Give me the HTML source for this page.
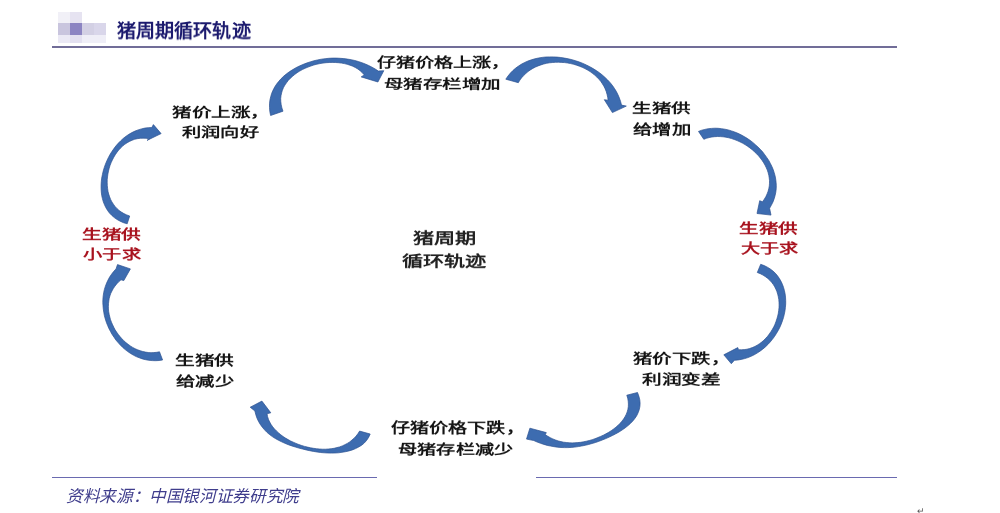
<!DOCTYPE html>
<html lang="zh-CN"><head><meta charset="utf-8">
<style>
html,body{margin:0;padding:0;background:#fff;}
body{width:1000px;height:513px;position:relative;overflow:hidden;font-family:"Liberation Serif",serif;}
.t{position:absolute;white-space:nowrap;line-height:1;transform-origin:0 0;will-change:transform;}
.red{color:#b8141e;}
.line{position:absolute;height:0;}
svg{position:absolute;left:0;top:0;}
</style></head><body>
<!-- header icon -->
<div style="position:absolute;left:58px;top:12px;width:12px;height:11px;background:#f1f0f7"></div>
<div style="position:absolute;left:70px;top:12px;width:12px;height:11px;background:#e6e3f1"></div>
<div style="position:absolute;left:58px;top:23px;width:12px;height:12px;background:#c9c5de"></div>
<div style="position:absolute;left:70px;top:23px;width:12px;height:12px;background:#8c84c2"></div>
<div style="position:absolute;left:82px;top:23px;width:12px;height:12px;background:#d3d0e4"></div>
<div style="position:absolute;left:94px;top:23px;width:12px;height:12px;background:#d9d6ea"></div>
<div style="position:absolute;left:58px;top:35px;width:12px;height:8px;background:#ebe9f5"></div>
<div style="position:absolute;left:70px;top:35px;width:12px;height:8px;background:#e3e0f0"></div>
<div style="position:absolute;left:82px;top:35px;width:24px;height:8px;background:#efeef7"></div>
<div style="position:absolute;left:52px;top:46px;width:845px;height:2px;background:#716d98"></div>
<div style="position:absolute;left:52px;top:477px;width:325px;height:1px;background:#6a6ab0"></div>
<div style="position:absolute;left:536px;top:477px;width:361px;height:1px;background:#6a6ab0"></div>
<div class="t" style="left:917px;top:507px;font-size:9px;color:#555;font-weight:normal">↵</div>

<div class="t" style="left:172.00px;top:105.89px;font-size:19px;font-weight:bold;font-style:normal;font-family:'Liberation Serif',serif;color:#141414;transform:scale(1.0265,0.6947)">猪价上涨，</div>
<div class="t" style="left:181.60px;top:126.29px;font-size:19px;font-weight:bold;font-style:normal;font-family:'Liberation Serif',serif;color:#141414;transform:scale(1.0105,0.6947)">利润向好</div>
<div class="t" style="left:377.00px;top:56.21px;font-size:19px;font-weight:bold;font-style:normal;font-family:'Liberation Serif',serif;color:#141414;transform:scale(1.0041,0.7105)">仔猪价格上涨，</div>
<div class="t" style="left:384.18px;top:77.87px;font-size:19px;font-weight:bold;font-style:normal;font-family:'Liberation Serif',serif;color:#141414;transform:scale(1.0250,0.6737)">母猪存栏增加</div>
<div class="t" style="left:631.97px;top:102.18px;font-size:19px;font-weight:bold;font-style:normal;font-family:'Liberation Serif',serif;color:#141414;transform:scale(1.0268,0.6842)">生猪供</div>
<div class="t" style="left:633.00px;top:122.71px;font-size:19px;font-weight:bold;font-style:normal;font-family:'Liberation Serif',serif;color:#141414;transform:scale(1.0179,0.7105)">给增加</div>
<div class="t" style="left:739.47px;top:221.71px;font-size:19px;font-weight:bold;font-style:normal;font-family:'Liberation Serif',serif;color:#a8121e;transform:scale(1.0268,0.7105)">生猪供</div>
<div class="t" style="left:740.50px;top:241.71px;font-size:19px;font-weight:bold;font-style:normal;font-family:'Liberation Serif',serif;color:#a8121e;transform:scale(1.0088,0.7105)">大于求</div>
<div class="t" style="left:633.20px;top:351.73px;font-size:19px;font-weight:bold;font-style:normal;font-family:'Liberation Serif',serif;color:#141414;transform:scale(1.0205,0.7263)">猪价下跌，</div>
<div class="t" style="left:642.00px;top:372.63px;font-size:19px;font-weight:bold;font-style:normal;font-family:'Liberation Serif',serif;color:#141414;transform:scale(1.0347,0.7263)">利润变差</div>
<div class="t" style="left:391.20px;top:421.25px;font-size:19px;font-weight:bold;font-style:normal;font-family:'Liberation Serif',serif;color:#141414;transform:scale(1.0050,0.7526)">仔猪价格下跌，</div>
<div class="t" style="left:398.49px;top:442.91px;font-size:19px;font-weight:bold;font-style:normal;font-family:'Liberation Serif',serif;color:#141414;transform:scale(1.0088,0.7105)">母猪存栏减少</div>
<div class="t" style="left:174.96px;top:354.11px;font-size:19px;font-weight:bold;font-style:normal;font-family:'Liberation Serif',serif;color:#141414;transform:scale(1.0357,0.7053)">生猪供</div>
<div class="t" style="left:176.00px;top:375.01px;font-size:19px;font-weight:bold;font-style:normal;font-family:'Liberation Serif',serif;color:#141414;transform:scale(1.0175,0.7053)">给减少</div>
<div class="t" style="left:81.87px;top:228.01px;font-size:19px;font-weight:bold;font-style:normal;font-family:'Liberation Serif',serif;color:#a8121e;transform:scale(1.0339,0.7053)">生猪供</div>
<div class="t" style="left:82.90px;top:248.41px;font-size:19px;font-weight:bold;font-style:normal;font-family:'Liberation Serif',serif;color:#a8121e;transform:scale(1.0158,0.7053)">小于求</div>
<div class="t" style="left:412.80px;top:230.91px;font-size:21px;font-weight:bold;font-style:normal;font-family:'Liberation Serif',serif;color:#222;transform:scale(1.0065,0.7143)">猪周期</div>
<div class="t" style="left:402.00px;top:254.31px;font-size:21px;font-weight:bold;font-style:normal;font-family:'Liberation Serif',serif;color:#222;transform:scale(1.0071,0.7143)">循环轨迹</div>
<div class="t" style="left:117.00px;top:22.17px;font-size:19px;font-weight:bold;font-style:normal;font-family:'Liberation Sans',sans-serif;color:#1c1a6e;transform:scale(1.0045,0.9684)">猪周期循环轨迹</div>
<div class="t" style="left:65.66px;top:487.94px;font-size:16px;font-weight:normal;font-style:italic;font-family:'Liberation Serif',serif;color:#3f3d8c;transform:scale(1.0400,1.0400)">资料来源：中国银河证券研究院</div>

<svg width="1000" height="513" viewBox="0 0 1000 513">
<g fill="#3d6cb0" stroke="#2c5190" stroke-width="0.7" stroke-linejoin="round">
<path d="M270.6,115.5 L269.8,111.5 L269.5,107.6 L269.5,103.8 L269.9,100.2 L270.7,96.7 L271.7,93.3 L273.1,90.1 L274.7,87.0 L276.6,84.1 L278.8,81.3 L281.2,78.6 L283.8,76.1 L286.6,73.8 L289.6,71.6 L292.8,69.6 L296.0,67.7 L299.4,66.0 L302.9,64.5 L306.5,63.1 L310.1,61.9 L313.8,60.8 L317.6,59.9 L321.3,59.2 L325.1,58.7 L328.8,58.3 L332.6,58.1 L336.3,58.1 L340.1,58.3 L343.8,58.6 L347.5,59.1 L351.2,59.7 L354.8,60.5 L358.3,61.5 L361.9,62.7 L365.3,64.0 L368.7,65.5 L372.0,67.2 L375.2,69.0 L378.3,71.0 L383.8,70.7 L377.9,82.0 L361.2,76.9 L364.3,74.9 L362.3,72.7 L360.1,70.7 L357.8,69.0 L355.3,67.5 L352.7,66.2 L350.0,65.2 L347.2,64.3 L344.3,63.6 L341.4,63.1 L338.3,62.7 L335.3,62.5 L332.2,62.4 L329.2,62.5 L326.1,62.7 L323.0,63.1 L319.9,63.6 L316.9,64.2 L313.8,65.0 L310.9,66.0 L308.0,67.1 L305.1,68.3 L302.4,69.6 L299.7,71.1 L297.1,72.7 L294.7,74.5 L292.4,76.4 L290.2,78.4 L288.2,80.5 L286.5,82.8 L284.9,85.1 L283.5,87.6 L282.4,90.2 L281.6,92.9 L281.0,95.7 L280.7,98.6 L280.8,101.6 L281.2,104.7 L281.9,107.9 L283.0,111.2 Z"/>
<path d="M505.8,79.2 L508.0,76.0 L510.4,73.1 L512.9,70.5 L515.7,68.1 L518.6,66.0 L521.6,64.1 L524.8,62.4 L528.0,61.0 L531.4,59.8 L534.9,58.8 L538.4,58.0 L542.1,57.4 L545.7,57.0 L549.5,56.9 L553.2,56.9 L557.0,57.1 L560.8,57.5 L564.5,58.1 L568.3,58.8 L572.0,59.7 L575.7,60.8 L579.4,62.0 L582.9,63.4 L586.4,65.0 L589.8,66.7 L593.1,68.6 L596.3,70.6 L599.4,72.7 L602.3,75.0 L605.1,77.5 L607.7,80.0 L610.2,82.7 L612.5,85.6 L614.5,88.5 L616.4,91.6 L618.0,94.8 L619.4,98.1 L620.6,101.5 L621.5,105.1 L626.3,106.1 L612.4,112.6 L604.3,99.7 L608.1,100.2 L607.7,97.2 L607.0,94.2 L606.2,91.4 L605.1,88.7 L603.8,86.1 L602.3,83.7 L600.7,81.3 L598.8,79.1 L596.8,77.0 L594.7,75.1 L592.4,73.3 L590.1,71.6 L587.5,70.0 L584.9,68.6 L582.2,67.3 L579.4,66.2 L576.6,65.2 L573.7,64.3 L570.7,63.6 L567.7,63.0 L564.7,62.6 L561.7,62.4 L558.6,62.2 L555.6,62.3 L552.6,62.5 L549.6,62.8 L546.6,63.3 L543.7,64.0 L540.9,64.9 L538.1,65.9 L535.4,67.1 L532.8,68.4 L530.4,69.9 L528.0,71.6 L525.8,73.5 L523.7,75.5 L521.7,77.7 L519.9,80.1 L518.3,82.7 Z"/>
<path d="M698.5,131.4 L701.7,130.2 L704.9,129.4 L708.2,128.7 L711.5,128.4 L714.9,128.2 L718.2,128.3 L721.5,128.7 L724.9,129.2 L728.2,129.9 L731.5,130.9 L734.7,132.0 L737.9,133.3 L741.0,134.8 L744.1,136.5 L747.1,138.3 L750.0,140.3 L752.8,142.4 L755.4,144.7 L758.0,147.1 L760.5,149.5 L762.8,152.1 L764.9,154.9 L766.9,157.7 L768.8,160.5 L770.4,163.5 L771.9,166.5 L773.2,169.6 L774.2,172.7 L775.1,175.9 L775.7,179.1 L776.1,182.4 L776.3,185.6 L776.2,188.9 L775.8,192.2 L775.1,195.5 L774.2,198.7 L773.0,201.9 L771.4,205.1 L769.6,208.3 L771.0,215.1 L757.0,213.5 L759.7,200.7 L762.5,201.8 L764.3,199.2 L765.9,196.6 L767.1,193.9 L768.1,191.3 L768.8,188.6 L769.3,185.9 L769.5,183.2 L769.5,180.5 L769.2,177.9 L768.8,175.3 L768.1,172.6 L767.3,170.1 L766.2,167.6 L765.0,165.1 L763.6,162.7 L762.0,160.3 L760.3,158.0 L758.5,155.8 L756.5,153.7 L754.4,151.7 L752.2,149.7 L749.9,147.9 L747.5,146.2 L745.0,144.6 L742.4,143.1 L739.8,141.8 L737.1,140.6 L734.3,139.5 L731.6,138.6 L728.8,137.8 L725.9,137.2 L723.1,136.8 L720.3,136.6 L717.5,136.5 L714.6,136.7 L711.9,137.0 L709.1,137.6 L706.4,138.3 L703.8,139.3 Z"/>
<path d="M760.7,264.3 L764.2,265.6 L767.4,267.2 L770.3,269.0 L773.0,271.1 L775.4,273.3 L777.5,275.8 L779.4,278.5 L781.0,281.3 L782.4,284.3 L783.5,287.3 L784.4,290.5 L785.1,293.8 L785.5,297.1 L785.7,300.5 L785.7,303.9 L785.4,307.4 L785.0,310.8 L784.3,314.2 L783.5,317.6 L782.4,320.9 L781.2,324.2 L779.8,327.4 L778.2,330.5 L776.4,333.5 L774.5,336.5 L772.4,339.3 L770.2,342.0 L767.9,344.5 L765.4,346.9 L762.7,349.2 L760.0,351.2 L757.1,353.1 L754.2,354.8 L751.1,356.3 L747.9,357.6 L744.7,358.6 L741.3,359.4 L737.9,360.0 L734.4,360.3 L731.3,363.7 L723.8,354.8 L737.8,347.6 L738.5,349.7 L741.4,349.8 L744.3,349.6 L747.0,349.2 L749.7,348.5 L752.3,347.6 L754.8,346.5 L757.2,345.2 L759.5,343.7 L761.7,342.1 L763.8,340.3 L765.7,338.3 L767.6,336.3 L769.3,334.0 L770.9,331.7 L772.4,329.3 L773.8,326.8 L775.0,324.2 L776.0,321.5 L776.9,318.8 L777.7,316.1 L778.3,313.3 L778.7,310.6 L779.0,307.8 L779.1,305.0 L779.0,302.2 L778.8,299.5 L778.3,296.8 L777.7,294.2 L776.9,291.6 L775.9,289.2 L774.7,286.8 L773.3,284.5 L771.6,282.3 L769.8,280.3 L767.8,278.4 L765.5,276.7 L763.0,275.1 L760.3,273.7 L757.3,272.5 Z"/>
<path d="M637.5,392.5 L638.9,396.3 L639.8,399.9 L640.1,403.3 L639.9,406.6 L639.2,409.8 L638.1,412.8 L636.7,415.7 L634.9,418.4 L632.8,421.0 L630.4,423.5 L627.8,425.8 L625.0,428.0 L622.1,430.0 L619.0,432.0 L615.8,433.8 L612.5,435.5 L609.2,437.1 L605.8,438.6 L602.3,440.0 L598.9,441.3 L595.5,442.5 L592.0,443.5 L588.6,444.5 L585.2,445.3 L581.7,446.0 L578.3,446.6 L574.8,447.1 L571.4,447.4 L567.9,447.6 L564.5,447.6 L561.0,447.5 L557.6,447.2 L554.2,446.7 L550.7,446.1 L547.3,445.4 L543.9,444.4 L540.5,443.3 L537.1,442.0 L533.7,440.5 L526.5,439.1 L529.9,428.2 L546.3,432.6 L545.3,434.7 L547.8,436.3 L550.3,437.7 L552.8,438.9 L555.5,440.0 L558.2,440.9 L560.9,441.6 L563.6,442.2 L566.4,442.5 L569.2,442.8 L572.1,442.9 L574.9,442.8 L577.8,442.6 L580.7,442.3 L583.6,441.8 L586.4,441.2 L589.3,440.5 L592.2,439.7 L595.0,438.7 L597.8,437.6 L600.6,436.4 L603.3,435.2 L606.0,433.8 L608.7,432.3 L611.2,430.7 L613.6,429.0 L615.9,427.2 L618.1,425.3 L620.1,423.3 L621.9,421.2 L623.6,419.0 L625.0,416.7 L626.2,414.4 L627.2,411.9 L627.9,409.3 L628.3,406.7 L628.4,404.0 L628.2,401.1 L627.7,398.2 L626.8,395.2 Z"/>
<path d="M370.2,434.0 L368.6,437.4 L366.6,440.4 L364.3,443.0 L361.7,445.2 L358.7,447.0 L355.6,448.6 L352.4,449.9 L349.0,450.9 L345.5,451.7 L342.0,452.3 L338.5,452.8 L334.9,453.0 L331.4,453.1 L327.8,453.0 L324.2,452.8 L320.6,452.5 L317.0,452.0 L313.4,451.4 L309.7,450.7 L306.1,449.9 L302.5,449.0 L298.9,448.1 L295.3,447.0 L291.8,445.9 L288.3,444.7 L284.9,443.3 L281.6,441.8 L278.4,440.2 L275.3,438.5 L272.3,436.6 L269.5,434.5 L266.9,432.3 L264.5,429.8 L262.3,427.2 L260.3,424.4 L258.5,421.4 L257.0,418.2 L255.8,414.7 L254.9,411.0 L250.2,407.2 L261.9,401.1 L270.8,412.8 L267.0,413.8 L267.6,416.7 L268.5,419.5 L269.7,422.0 L271.1,424.5 L272.7,426.8 L274.5,429.0 L276.5,431.0 L278.6,432.9 L280.8,434.8 L283.1,436.5 L285.5,438.1 L288.1,439.6 L290.6,441.0 L293.3,442.2 L296.0,443.4 L298.8,444.5 L301.7,445.5 L304.6,446.4 L307.5,447.1 L310.5,447.8 L313.5,448.3 L316.4,448.7 L319.4,449.0 L322.4,449.2 L325.4,449.2 L328.3,449.0 L331.2,448.7 L334.1,448.3 L336.9,447.6 L339.6,446.9 L342.3,445.9 L344.8,444.7 L347.3,443.4 L349.7,441.9 L351.9,440.1 L354.1,438.2 L356.1,436.1 L357.9,433.7 L359.6,431.1 Z"/>
<path d="M162.6,360.0 L159.1,360.5 L155.6,360.7 L152.2,360.6 L148.8,360.3 L145.6,359.7 L142.4,358.9 L139.3,357.8 L136.2,356.6 L133.3,355.1 L130.5,353.4 L127.8,351.6 L125.2,349.6 L122.7,347.4 L120.3,345.0 L118.1,342.6 L115.9,340.0 L114.0,337.2 L112.1,334.4 L110.5,331.5 L108.9,328.5 L107.6,325.4 L106.3,322.2 L105.3,319.0 L104.4,315.8 L103.8,312.5 L103.3,309.1 L103.0,305.8 L102.8,302.5 L102.9,299.2 L103.2,295.9 L103.7,292.6 L104.4,289.4 L105.4,286.2 L106.6,283.1 L108.0,280.1 L109.6,277.1 L111.5,274.3 L113.6,271.5 L116.0,268.9 L117.5,264.6 L130.4,268.9 L123.8,280.6 L121.0,279.8 L118.7,281.8 L116.7,283.9 L114.9,286.2 L113.3,288.5 L112.0,290.9 L110.8,293.3 L109.9,295.9 L109.2,298.4 L108.8,301.0 L108.5,303.7 L108.4,306.4 L108.4,309.0 L108.7,311.7 L109.2,314.4 L109.8,317.0 L110.5,319.7 L111.5,322.3 L112.6,324.8 L113.8,327.3 L115.1,329.8 L116.6,332.1 L118.3,334.4 L120.0,336.6 L121.9,338.7 L123.8,340.7 L125.9,342.6 L128.1,344.3 L130.3,345.9 L132.7,347.4 L135.1,348.7 L137.6,349.8 L140.2,350.7 L142.8,351.5 L145.5,352.1 L148.2,352.5 L151.0,352.7 L153.8,352.6 L156.6,352.3 L159.5,351.8 Z"/>
<path d="M127.2,223.8 L123.5,222.7 L120.1,221.2 L117.1,219.5 L114.3,217.6 L111.8,215.4 L109.5,213.1 L107.6,210.5 L105.9,207.7 L104.5,204.8 L103.3,201.8 L102.4,198.6 L101.7,195.4 L101.3,192.0 L101.1,188.6 L101.1,185.1 L101.3,181.6 L101.7,178.1 L102.4,174.6 L103.2,171.1 L104.2,167.7 L105.4,164.3 L106.8,160.9 L108.3,157.7 L110.0,154.5 L111.9,151.5 L113.9,148.6 L116.0,145.8 L118.4,143.1 L120.8,140.7 L123.4,138.3 L126.1,136.2 L128.9,134.3 L131.9,132.6 L135.0,131.1 L138.1,129.9 L141.4,128.9 L144.8,128.1 L148.2,127.7 L151.8,127.5 L153.4,124.6 L161.1,133.6 L147.0,140.4 L149.2,138.8 L146.1,138.3 L143.1,138.2 L140.2,138.3 L137.3,138.7 L134.6,139.3 L132.0,140.3 L129.5,141.4 L127.1,142.8 L124.8,144.3 L122.6,146.1 L120.6,148.0 L118.7,150.1 L116.9,152.4 L115.3,154.7 L113.8,157.2 L112.4,159.9 L111.2,162.5 L110.1,165.3 L109.2,168.2 L108.5,171.0 L107.9,174.0 L107.5,176.9 L107.2,179.8 L107.2,182.8 L107.3,185.7 L107.6,188.5 L108.0,191.4 L108.7,194.1 L109.6,196.8 L110.6,199.4 L111.9,201.9 L113.4,204.2 L115.0,206.4 L116.9,208.5 L119.0,210.4 L121.4,212.1 L123.9,213.6 L126.7,214.9 L129.7,216.0 Z"/>

</g>
</svg>
</body></html>
